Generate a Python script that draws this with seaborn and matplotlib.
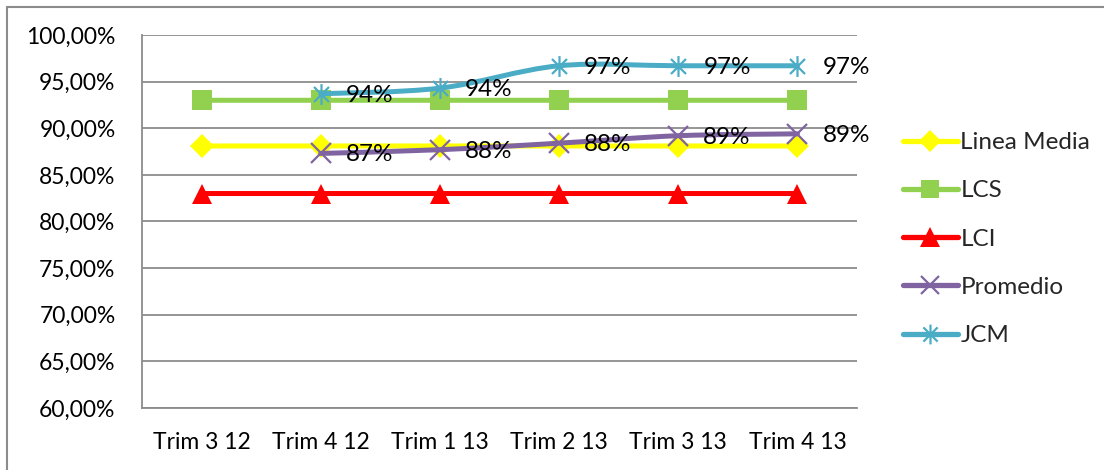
import numpy as np
import pandas as pd
import matplotlib
matplotlib.use("Agg")
import matplotlib.pyplot as plt
from matplotlib.path import Path
from matplotlib.patches import PathPatch
from matplotlib.lines import Line2D
import seaborn as sns

# Quarterly data
periodos = ["Trim 3 12", "Trim 4 12", "Trim 1 13", "Trim 2 13", "Trim 3 13", "Trim 4 13"]
linea_media = [88.1, 88.1, 88.1, 88.1, 88.1, 88.1]
lcs = [93.0, 93.0, 93.0, 93.0, 93.0, 93.0]
lci = [83.0, 83.0, 83.0, 83.0, 83.0, 83.0]
promedio = [np.nan, 87.3, 87.7, 88.4, 89.2, 89.4]
jcm = [np.nan, 93.7, 94.3, 96.7, 96.7, 96.7]

y_ticks = [60, 65, 70, 75, 80, 85, 90, 95, 100]
y_tick_labels = ["60,00%", "65,00%", "70,00%", "75,00%", "80,00%",
                 "85,00%", "90,00%", "95,00%", "100,00%"]

sns.set_theme(style="white")
plt.rcParams["font.family"] = ["Lato", "DejaVu Sans"]

GRID = "#8c8c8c"
FS_TICK = 16.5
FS_TEXT = 17.5

# asterisk marker: vertical stroke plus two diagonals
ast = Path([(0, -1), (0, 1), (-0.72, -0.72), (0.72, 0.72), (-0.72, 0.72), (0.72, -0.72)],
           [Path.MOVETO, Path.LINETO, Path.MOVETO, Path.LINETO, Path.MOVETO, Path.LINETO])

series = [
    ("Linea Media", linea_media, "#FFFF00", "D", 12, None),
    ("LCS", lcs, "#92D050", "s", 14, None),
    ("LCI", lci, "#FF0000", "^", 15, None),
    ("Promedio", promedio, "#8064A2", "x", 14, 1.6),
    ("JCM", jcm, "#4BACC6", ast, 15, 1.6),
]

fig = plt.figure(figsize=(11.04, 4.70), dpi=100)
ax = fig.add_axes([142 / 1104, 1 - 408 / 470, (857 - 142) / 1104, (408 - 35) / 470])


def smooth_path(xs, ys):
    """Cubic Bezier path through the points (spreadsheet-style smoothed line)."""
    pts = np.column_stack([xs, ys])
    n = len(pts)
    verts = [tuple(pts[0])]
    codes = [Path.MOVETO]
    for i in range(n - 1):
        p0 = pts[i - 1] if i > 0 else pts[i]
        p1 = pts[i]
        p2 = pts[i + 1]
        p3 = pts[i + 2] if i + 2 < n else pts[i + 1]
        c1 = p1 + (p2 - p0) / 6.0
        c2 = p2 - (p3 - p1) / 6.0
        verts += [tuple(c1), tuple(c2), tuple(p2)]
        codes += [Path.CURVE4] * 3
    return Path(verts, codes)


handles = []
for z, (name, vals, color, marker, ms, mew) in enumerate(series):
    vals = np.asarray(vals, dtype=float)
    xs = np.arange(len(periodos), dtype=float)
    ok = ~np.isnan(vals)
    patch = PathPatch(smooth_path(xs[ok], vals[ok]), fill=False, edgecolor=color,
                      lw=3.6, capstyle="round", joinstyle="round", zorder=3 + 2 * z)
    ax.add_patch(patch)
    df = pd.DataFrame({"x": xs[ok], "y": vals[ok]})
    kw = dict(marker=marker, markersize=ms, linestyle="", color=color,
              markerfacecolor=color, markeredgecolor=color, zorder=4 + 2 * z,
              markeredgewidth=(mew if mew is not None else 0))
    sns.lineplot(data=df, x="x", y="y", ax=ax, legend=False, **kw)
    handles.append(Line2D([0], [0], color=color, lw=3.8, marker=marker,
                          markersize=ms * 0.95, markerfacecolor=color,
                          markeredgecolor=color,
                          markeredgewidth=(mew if mew is not None else 0),
                          solid_capstyle="round"))

# value labels for the two measured series
for vals in (promedio, jcm):
    for i, v in enumerate(vals):
        if not np.isnan(v):
            ax.annotate(f"{v:.0f}%", (i, v), xytext=(18, -1), textcoords="offset points",
                        ha="left", va="center", fontsize=FS_TEXT, color="black", zorder=20)

ax.set_xlim(-0.5, len(periodos) - 0.5)
ax.set_ylim(60, 100)
ax.set_yticks(y_ticks)
ax.set_yticklabels(y_tick_labels, fontsize=FS_TICK)
ax.set_xticks(np.arange(len(periodos)))
ax.set_xticklabels(periodos, fontsize=FS_TICK)
ax.set_xticks(np.arange(len(periodos) + 1) - 0.5, minor=True)
ax.tick_params(axis="x", which="major", length=0, pad=17, colors="black")
ax.tick_params(axis="x", which="minor", length=7, width=1.2, color=GRID, direction="out")
ax.tick_params(axis="y", which="major", length=7, width=1.2, color=GRID, direction="out",
               pad=12, labelcolor="black")
ax.set_xlabel("")
ax.set_ylabel("")

ax.yaxis.grid(True, color=GRID, lw=1.3)
ax.set_axisbelow(True)
for side in ("top", "right"):
    ax.spines[side].set_visible(False)
for side in ("left", "bottom"):
    ax.spines[side].set_visible(True)
    ax.spines[side].set_color(GRID)
    ax.spines[side].set_linewidth(1.3)

fig.legend(handles, [s[0] for s in series], loc="upper left",
           bbox_to_anchor=(891 / 1104, 1 - 120 / 470), frameon=False, fontsize=FS_TEXT,
           handlelength=2.25, handletextpad=0.1, labelspacing=1.12, borderpad=0)

# outer chart frame
fig.add_artist(Line2D([7 / 1104, 7 / 1104], [0, 1 - 7 / 470], color=GRID, lw=1.5))
fig.add_artist(Line2D([7 / 1104, 1], [1 - 7 / 470, 1 - 7 / 470], color=GRID, lw=1.5))

fig.savefig("out.png", dpi=100, facecolor="white")
